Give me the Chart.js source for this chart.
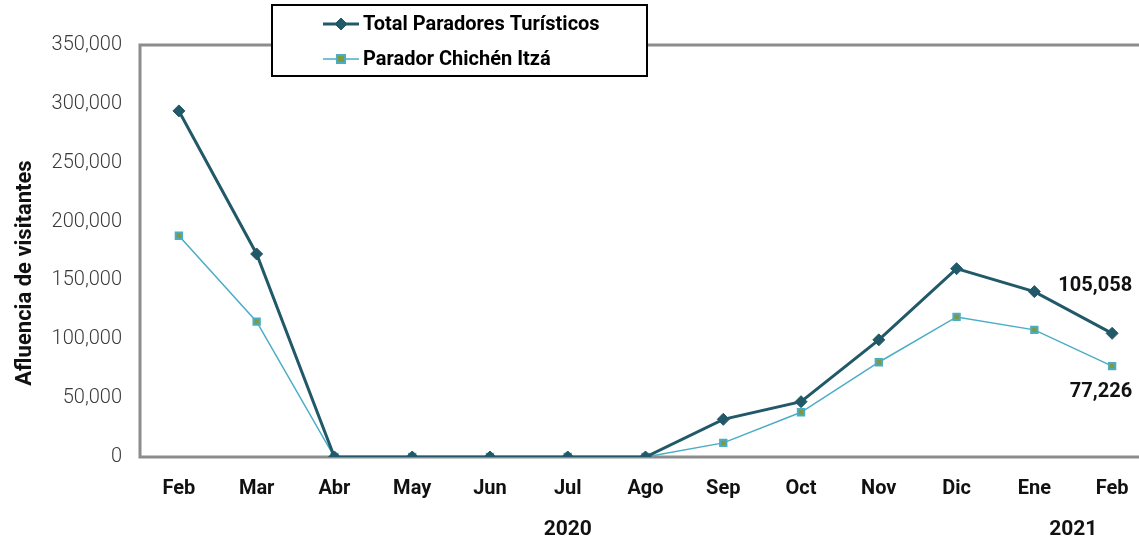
<!DOCTYPE html>
<html>
<head>
<meta charset="utf-8">
<script src="https://cdn.jsdelivr.net/npm/chart.js@4.4.1/dist/chart.umd.min.js"></script>
<style>
  html, body { margin: 0; padding: 0; background: #fff; overflow: hidden; }
  #wrap { width: 1158px; height: 539px; }
</style>
</head>
<body>
<div id="wrap"><canvas id="chart" width="1158" height="539"></canvas></div>
<script>
// Datos
const meses = ['Feb', 'Mar', 'Abr', 'May', 'Jun', 'Jul', 'Ago', 'Sep', 'Oct', 'Nov', 'Dic', 'Ene', 'Feb'];
const totalParadores = [294000, 172500, 0, 0, 0, 0, 0, 32000, 47000, 99500, 160000, 140500, 105058];
const paradorChichen = [188000, 115000, 0, 0, 0, 0, 0, 12000, 38000, 80500, 119000, 108000, 77226];
const anios = [
    { label: '2020', desde: 0, hasta: 10 },
    { label: '2021', desde: 11, hasta: 12 }
];
const yTicks = { min: 0, max: 350000, step: 50000 };
const tituloY = 'Afluencia de visitantes';

const FONT = 'Roboto, "Open Sans", sans-serif';
const GRIS = '#8c8c8c';

// Marco del área de gráfico (izquierda, arriba, abajo)
const marcoPlugin = {
    id: 'marco',
    beforeDatasetsDraw(chart) {
        const { ctx, chartArea } = chart;
        ctx.save();
        ctx.strokeStyle = GRIS;
        ctx.lineWidth = 3;
        ctx.beginPath();
        ctx.moveTo(chart.width + 5, chartArea.top);
        ctx.lineTo(chartArea.left, chartArea.top);
        ctx.lineTo(chartArea.left, chartArea.bottom);
        ctx.lineTo(chart.width + 5, chartArea.bottom);
        ctx.stroke();

        // título del eje Y
        ctx.translate(25, 273);
        ctx.rotate(-Math.PI / 2);
        ctx.fillStyle = '#111';
        ctx.font = 'bold 22px ' + FONT;
        ctx.textAlign = 'center';
        ctx.textBaseline = 'middle';
        ctx.fillText(tituloY, 0, 0);
        ctx.restore();
    }
};

// Etiquetas de año y de último valor
const extrasPlugin = {
    id: 'extras',
    afterDatasetsDraw(chart) {
        const { ctx } = chart;
        const x = chart.scales.x;
        ctx.save();
        ctx.fillStyle = '#111';
        ctx.font = 'bold 21px ' + FONT;
        ctx.textAlign = 'center';
        ctx.textBaseline = 'middle';
        anios.forEach(a => {
            const cx = (x.getPixelForValue(a.desde) + x.getPixelForValue(a.hasta)) / 2;
            ctx.fillText(a.label, cx, 530);
        });

        // valores finales
        const last = meses.length - 1;
        ctx.font = 'bold 20px ' + FONT;
        ctx.textAlign = 'right';
        const p0 = chart.getDatasetMeta(0).data[last];
        const p1 = chart.getDatasetMeta(1).data[last];
        ctx.fillText(totalParadores[last].toLocaleString('en-US'), p0.x + 20, p0.y - 47);
        ctx.fillText(paradorChichen[last].toLocaleString('en-US'), p1.x + 20, p1.y + 26);
        ctx.restore();
    }
};

// Leyenda con recuadro
const leyendaPlugin = {
    id: 'leyenda',
    afterDraw(chart) {
        const { ctx } = chart;
        ctx.save();
        ctx.fillStyle = '#fff';
        ctx.fillRect(272, 5, 375, 71);
        ctx.strokeStyle = '#000';
        ctx.lineWidth = 2;
        ctx.strokeRect(272, 5, 375, 71);
        const filas = [24, 59];
        chart.data.datasets.forEach((ds, i) => {
            const y = filas[i];
            ctx.strokeStyle = ds.borderColor;
            ctx.lineWidth = ds.borderWidth;
            ctx.beginPath();
            ctx.moveTo(323, y);
            ctx.lineTo(359, y);
            ctx.stroke();
            ctx.fillStyle = ds.pointBackgroundColor;
            ctx.strokeStyle = ds.pointBorderColor;
            ctx.lineWidth = ds.pointBorderWidth;
            ctx.beginPath();
            drawMarker(ctx, ds.pointStyle, ds.pointRadius, 341, y);
            ctx.fill();
            ctx.stroke();
            ctx.fillStyle = '#000';
            ctx.font = 'bold 20px ' + FONT;
            ctx.textAlign = 'left';
            ctx.textBaseline = 'middle';
            ctx.fillText(ds.label, 363, y + 1);
        });
        ctx.restore();
    }
};

function drawMarker(ctx, style, r, x, y) {
    if (style === 'rectRot') {
        ctx.moveTo(x, y - r);
        ctx.lineTo(x + r, y);
        ctx.lineTo(x, y + r);
        ctx.lineTo(x - r, y);
        ctx.closePath();
    } else {
        const s = r * 0.9;
        ctx.rect(x - s, y - s, 2 * s, 2 * s);
    }
}

new Chart(document.getElementById('chart'), {
    type: 'line',
    data: {
        labels: meses,
        datasets: [
            {
                label: 'Total Paradores Turísticos',
                data: totalParadores,
                borderColor: '#215968',
                backgroundColor: '#215968',
                borderWidth: 3,
                pointStyle: 'rectRot',
                pointRadius: 6,
                pointBorderWidth: 1,
                pointBackgroundColor: '#215968',
                pointBorderColor: '#215968',
                tension: 0
            },
            {
                label: 'Parador Chichén Itzá',
                data: paradorChichen,
                borderColor: '#4bacc6',
                backgroundColor: '#4bacc6',
                borderWidth: 1.5,
                pointStyle: 'rect',
                pointRadius: 4.5,
                pointBorderWidth: 2,
                pointBackgroundColor: '#7f9a3c',
                pointBorderColor: '#4bacc6',
                tension: 0
            }
        ]
    },
    options: {
        responsive: false,
        animation: false,
        devicePixelRatio: 1,
        layout: { padding: { top: 45, right: 2, left: 0, bottom: 0 } },
        plugins: {
            legend: { display: false },
            tooltip: { enabled: false }
        },
        scales: {
            x: {
                offset: true,
                grid: { display: false, drawTicks: false },
                border: { display: false },
                ticks: {
                    padding: 20,
                    color: '#111',
                    font: { family: FONT, size: 20, weight: 'bold' },
                    maxRotation: 0,
                    autoSkip: false
                },
                afterFit(scale) { scale.height = 82; }
            },
            y: {
                min: yTicks.min,
                max: yTicks.max,
                grid: { display: false, drawTicks: false },
                border: { display: false },
                ticks: {
                    stepSize: yTicks.step,
                    padding: 18,
                    color: '#3a3a3a',
                    font: { family: FONT, size: 20, weight: 300 },
                    callback: v => v.toLocaleString('en-US')
                },
                afterFit(scale) { scale.width = 140; }
            }
        }
    },
    plugins: [marcoPlugin, extrasPlugin, leyendaPlugin]
});
</script>
</body>
</html>
